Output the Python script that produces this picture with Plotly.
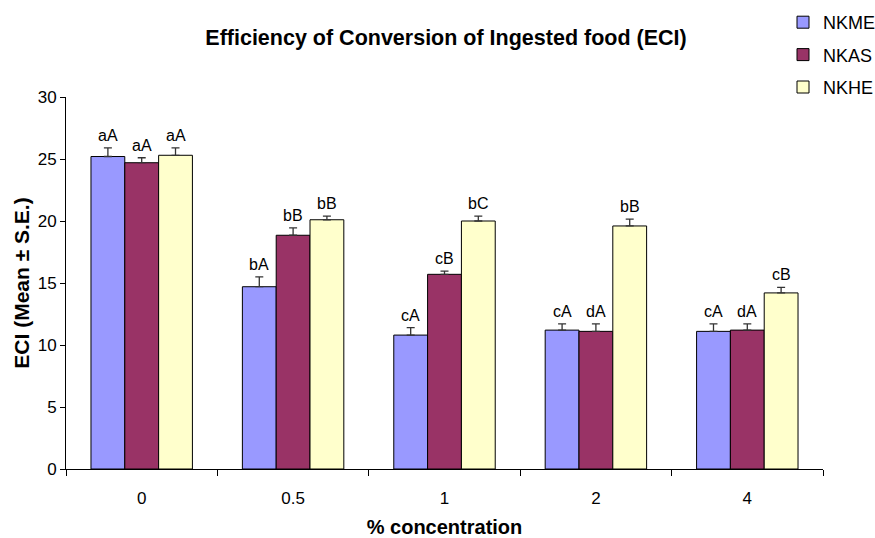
import plotly.graph_objects as go

# ECI data: mean values, standard errors and significance letters
concentrations = ["0", "0.5", "1", "2", "4"]
series_names = ["NKME", "NKAS", "NKHE"]
nkme_mean = [25.2, 14.7, 10.8, 11.2, 11.1]
nkas_mean = [24.7, 18.85, 15.7, 11.1, 11.2]
nkhe_mean = [25.3, 20.1, 20.0, 19.6, 14.2]
nkme_se = [0.7, 0.8, 0.6, 0.5, 0.6]
nkas_se = [0.4, 0.6, 0.25, 0.6, 0.5]
nkhe_se = [0.6, 0.3, 0.4, 0.55, 0.45]
nkme_sig = ["aA", "bA", "cA", "cA", "cA"]
nkas_sig = ["aA", "bB", "cB", "dA", "dA"]
nkhe_sig = ["aA", "bB", "bC", "bB", "cB"]

means = [nkme_mean, nkas_mean, nkhe_mean]
errors = [nkme_se, nkas_se, nkhe_se]
letters = [nkme_sig, nkas_sig, nkhe_sig]
colors = ["#9999FF", "#993366", "#FFFFCC"]

FONT = "Liberation Sans, Arial, sans-serif"
W, H = 875, 538
M_L, M_R, M_T, M_B = 66, 52, 97, 69
BARGAP = 0.33
plot_w = W - M_L - M_R
plot_h = H - M_T - M_B
bar_px = plot_w / len(concentrations) * (1 - BARGAP) / len(series_names)

fig = go.Figure()
for i, name in enumerate(series_names):
    fig.add_trace(go.Bar(
        name=name,
        x=concentrations,
        y=means[i],
        marker=dict(color=colors[i], line=dict(color="#000000", width=1)),
        error_y=dict(type="data", array=errors[i], arrayminus=[0] * len(errors[i]),
                     symmetric=False, color="#333333", thickness=1.3, width=4),
        legendgroup=name,
    ))
    # significance letters above each error bar (x given as category index)
    for j in range(len(concentrations)):
        fig.add_annotation(
            x=j, y=means[i][j] + errors[i][j], xref="x", yref="y",
            text=letters[i][j], showarrow=False,
            xanchor="center", yanchor="bottom",
            xshift=(i - 1) * bar_px, yshift=2,
            font=dict(family=FONT, size=16, color="#000000"),
        )

fig.update_layout(
    width=W, height=H,
    margin=dict(l=M_L, r=M_R, t=M_T, b=M_B, autoexpand=False),
    paper_bgcolor="white", plot_bgcolor="white",
    barmode="group", bargap=BARGAP, bargroupgap=0,
    font=dict(family=FONT, color="#000000"),
    title=dict(text="<b>Efficiency of Conversion of Ingested food (ECI)</b>",
               x=446 / W, xanchor="center", y=1 - 37 / H, yanchor="middle",
               font=dict(family=FONT, size=21.5, color="#000000")),
    legend=dict(x=(783 - M_L) / plot_w, xanchor="left",
                y=1 + (M_T - 4) / plot_h, yanchor="top",
                font=dict(family=FONT, size=18, color="#000000"),
                bgcolor="rgba(0,0,0,0)", tracegroupgap=6,
                itemwidth=30),
    showlegend=True,
)

fig.update_xaxes(
    type="category",
    showline=True, linecolor="#000000", linewidth=1,
    ticks="outside", ticklen=6, tickcolor="#000000", tickson="boundaries",
    ticklabelstandoff=14,
    tickfont=dict(family=FONT, size=17, color="#000000"),
    showgrid=False, zeroline=False,
    title=dict(text="<b>% concentration</b>", standoff=14,
               font=dict(family=FONT, size=20, color="#000000")),
)
fig.update_yaxes(
    range=[0, 30], dtick=5, tick0=0,
    showline=True, linecolor="#000000", linewidth=1,
    ticks="outside", ticklen=5, tickcolor="#000000",
    tickfont=dict(family=FONT, size=17, color="#000000"),
    showgrid=False, zeroline=False,
    title=dict(text="<b>ECI (Mean ± S.E.)</b>", standoff=2,
               font=dict(family=FONT, size=21, color="#000000")),
)

fig.write_html("out.html")
